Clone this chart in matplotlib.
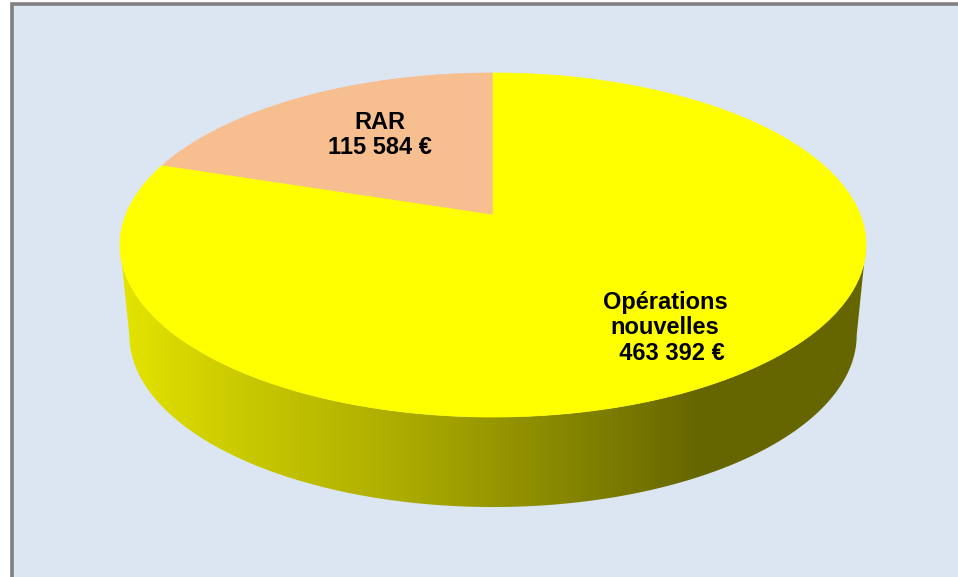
import numpy as np
import matplotlib
matplotlib.use("Agg")
import matplotlib.pyplot as plt
from matplotlib.patches import Polygon, Rectangle

# ---- data ----
labels = ["RAR", "Opérations\nnouvelles"]
values = [115584, 463392]
colors = ["#f7be8f", "#ffff00"]

# ---- layout (pixel space) ----
W, H = 958, 577
cx, cy = 493.0, 215.0      # projected pie centre
S, T, K = 367.3, 166.8, 0.1744   # perspective parameters
DEPTH = 90.0
BOT_SCALE = 0.975

fig = plt.figure(figsize=(W / 100, H / 100), dpi=100)
fig.patch.set_facecolor("white")
ax = fig.add_axes([0, 0, 1, 1])
ax.set_xlim(0, W)
ax.set_ylim(H, 0)
ax.axis("off")

# background panel with border (only left/top visible)
ax.add_patch(Rectangle((12, 4), W + 20, H + 20, facecolor="#dce6f2",
                       edgecolor="#7f7f7f", lw=2.6, zorder=0))


def proj(theta_deg, dy=0.0, xs=1.0):
    th = np.radians(theta_deg)
    u, v = np.cos(th), np.sin(th)
    d = 1 + K * v
    return cx + xs * S * u / d, cy - T * v / d + dy


total = float(sum(values))
# slices start at 12 o'clock, first slice going counter-clockwise
start = 90.0
angles = []
for v in values:
    span = 360.0 * v / total
    angles.append((start, start + span))
    start += span

# ---- side (front visible part) ----
th_l = 180 + np.degrees(np.arcsin(K))
th_r = 360 - np.degrees(np.arcsin(K))
ths = np.linspace(th_l, th_r, 300)
top_x, top_y = proj(ths)
bot_x, bot_y = proj(ths[::-1], DEPTH, BOT_SCALE)
side_pts = np.column_stack([np.concatenate([top_x, bot_x]),
                            np.concatenate([top_y, bot_y])])
side_poly = Polygon(side_pts, closed=True, facecolor="none", edgecolor="none")
ax.add_patch(side_poly)

grad_x = [110, 250, 400, 550, 700, 880]
grad_v = [230, 200, 172, 138, 102, 102]
xs = np.linspace(110, 880, 600)
vals = np.interp(xs, grad_x, grad_v) / 255.0
img = np.zeros((2, len(xs), 3))
img[:, :, 0] = vals
img[:, :, 1] = vals
im = ax.imshow(img, extent=[110, 880, 530, 200], aspect="auto",
               interpolation="bilinear", zorder=1)
im.set_clip_path(side_poly)

# ---- top faces ----
for (a0, a1), col in zip(angles, colors):
    th = np.linspace(a0, a1, 300)
    px, py = proj(th)
    pts = np.column_stack([np.concatenate([[cx], px]),
                           np.concatenate([[cy], py])])
    ax.add_patch(Polygon(pts, closed=True, facecolor=col, edgecolor=col,
                         lw=0.5, zorder=2))


def fmt(v):
    return f"{v:,}".replace(",", " ") + " €"


font = dict(family=["Liberation Sans", "DejaVu Sans"], fontweight="bold",
            fontsize=17, color="black", ha="center", va="center",
            multialignment="center", zorder=5)

ax.text(380, 135, f"{labels[0]}\n{fmt(values[0])}", linespacing=1.1, **font)
ax.text(665, 328, f"{labels[1]}\n  {fmt(values[1])}", linespacing=1.15, **font)

fig.savefig("out.png", dpi=100, facecolor=fig.get_facecolor())
